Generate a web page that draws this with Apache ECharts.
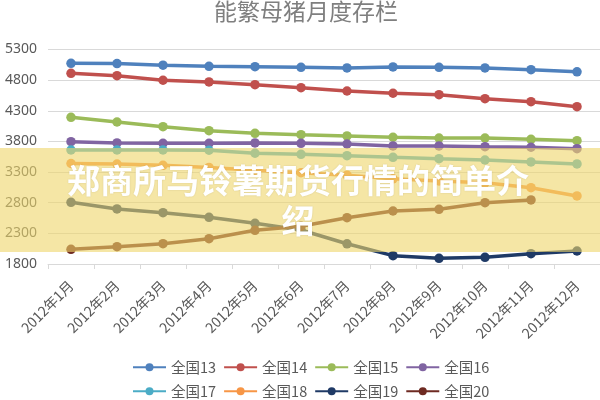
<!DOCTYPE html>
<html>
<head>
<meta charset="utf-8">
<script src="https://cdn.jsdelivr.net/npm/echarts/dist/echarts.min.js"></script>
<style>
html,body{margin:0;padding:0;background:#fff;}
#chart{width:600px;height:400px;}
</style>
</head>
<body>
<div id="chart"></div>
<script>
var months = ['2012年1月','2012年2月','2012年3月','2012年4月','2012年5月','2012年6月','2012年7月','2012年8月','2012年9月','2012年10月','2012年11月','2012年12月'];
var seriesNames = ['全国13','全国14','全国15','全国16','全国17','全国18','全国19','全国20'];
var s13 = [5075,5070,5045,5025,5020,5010,5000,5015,5010,5000,4970,4935];
var s14 = [4912,4873,4798,4770,4726,4677,4623,4586,4563,4498,4449,4367];
var s15 = [4194,4117,4041,3975,3933,3910,3889,3868,3856,3856,3835,3812];
var s16 = [3796,3775,3770,3770,3775,3770,3758,3726,3726,3714,3705,3682];
var s17 = [3660,3660,3660,3656,3607,3590,3567,3541,3518,3497,3465,3432];
var s18 = [3440,3430,3410,3375,3330,3290,3250,3190,3155,3125,3045,2910];
var s19 = [2807,2698,2637,2562,2464,2355,2130,1936,1893,1909,1968,2012];
var s20 = [2040,2083,2131,2213,2350,2415,2556,2665,2693,2800,2845,null];
var yTicks = [1800,2300,2800,3300,3800,4300,4800,5300];
var colors = ['#4f81bd','#c0504d','#9bbb59','#8064a2','#4bacc6','#f79646','#1f3a66','#6e2a22'];
var allData = [s13,s14,s15,s16,s17,s18,s19,s20];

var chart = echarts.init(document.getElementById('chart'));
var series = seriesNames.map(function(n,i){
  return {
    name:n, type:'line', data:allData[i],
    symbol:'circle', symbolSize:9.5, showSymbol:true,
    lineStyle:{width:3.5,color:colors[i]},
    itemStyle:{color:colors[i]},
    connectNulls:false, animation:false
  };
});
var legendText = {color:'#595959',fontSize:14.5,fontFamily:'Noto Sans CJK SC'};
chart.setOption({
  animation:false,
  backgroundColor:'#ffffff',
  color:colors,
  title:{
    text:'能繁母猪月度存栏', left:214, top:0, padding:0,
    textStyle:{color:'#7f7f7f',fontSize:23,fontWeight:'normal',fontFamily:'Noto Sans CJK SC'}
  },
  legend:[
    {data:seriesNames.slice(0,4), left:132, top:360, padding:0, itemWidth:33, itemHeight:10, itemGap:7, textStyle:legendText, selectedMode:false},
    {data:seriesNames.slice(4,8), left:132, top:384, padding:0, itemWidth:33, itemHeight:10, itemGap:7, textStyle:legendText, selectedMode:false}
  ],
  grid:{left:48, right:-5, top:49.5, bottom:136, containLabel:false},
  xAxis:{
    type:'category', data:months, boundaryGap:true,
    axisLine:{lineStyle:{color:'#d9d9d9'}},
    axisTick:{show:true,length:5,lineStyle:{color:'#d9d9d9'}},
    axisLabel:{rotate:45, interval:0, margin:19, color:'#595959', fontSize:14, fontFamily:'Noto Sans CJK SC'},
    splitLine:{show:false}
  },
  yAxis:{
    type:'value', min:yTicks[0], max:yTicks[yTicks.length-1], interval:500,
    axisLine:{show:false}, axisTick:{show:false},
    axisLabel:{color:'#595959', fontSize:14, margin:11, fontFamily:'Noto Sans', formatter:function(v){return String(v);}},
    splitLine:{lineStyle:{color:'#d9d9d9'}}
  },
  series:series,
  graphic:[
    {type:'rect', z:100, shape:{x:0,y:148,width:600,height:104}, style:{fill:'rgba(238,213,105,0.6)'}},
    {type:'text', z:101, x:298, y:200, style:{
      text:'郑商所马铃薯期货行情的简单介\n绍',
      fill:'#ffffff', font:'bold 33px "Noto Sans CJK SC"',
      textAlign:'center', textVerticalAlign:'middle', lineHeight:40,
      textShadowColor:'rgba(0,0,0,0.12)', textShadowBlur:2
    }}
  ]
});
</script>
</body>
</html>
